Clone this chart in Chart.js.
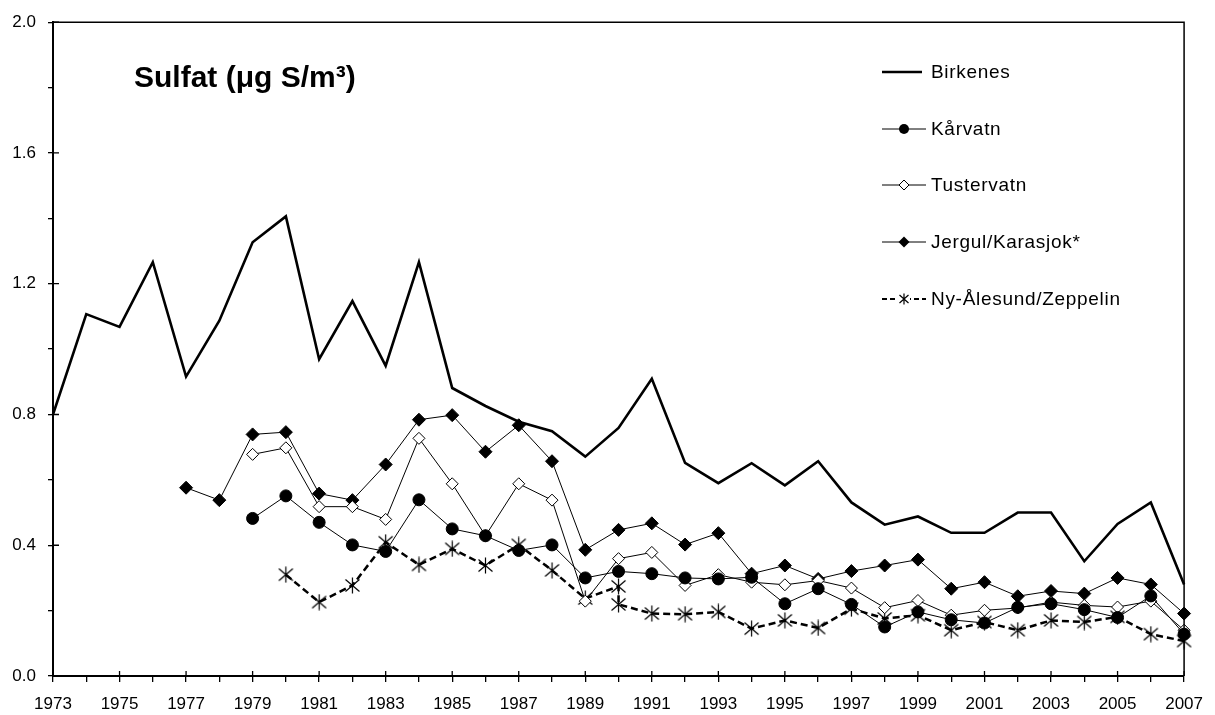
<!DOCTYPE html>
<html><head><meta charset="utf-8">
<script src="https://cdn.jsdelivr.net/npm/chart.js@4"></script>
<style>
html,body{margin:0;padding:0;background:#fff;}
#wrap{position:relative;width:1215px;height:715px;overflow:hidden;}
#c{position:absolute;left:0;top:0;}
.title{position:absolute;left:134px;top:62px;font:bold 30px 'Liberation Sans',Arial,sans-serif;line-height:30px;white-space:nowrap;color:#000;}
.leg{position:absolute;left:882px;height:20px;display:flex;align-items:center;font:19px 'Liberation Sans',Arial,sans-serif;letter-spacing:0.7px;color:#000;white-space:nowrap;line-height:20px;}
.leg svg{margin-right:5px;flex:none;}
</style></head>
<body><div id="wrap"><canvas id="c" width="1215" height="715"></canvas>
<div class="title">Sulfat (μg S/m³)</div>
<div id="legend"></div></div>
<script>
// ---- data ----
const yearsAll = [1973,1974,1975,1976,1977,1978,1979,1980,1981,1982,1983,1984,1985,1986,1987,1988,1989,1990,1991,1992,1993,1994,1995,1996,1997,1998,1999,2000,2001,2002,2003,2004,2005,2006,2007];
const seriesNames = ['Birkenes','Kårvatn','Tustervatn','Jergul/Karasjok*','Ny-Ålesund/Zeppelin'];

const birkenesYears = yearsAll;
const birkenes = [0.80,1.107,1.068,1.266,0.916,1.087,1.327,1.406,0.969,1.147,0.949,1.266,0.881,0.826,0.778,0.749,0.671,0.759,0.909,0.652,0.590,0.651,0.583,0.657,0.531,0.463,0.488,0.438,0.438,0.500,0.500,0.351,0.465,0.531,0.280];

const kaarvatnYears = yearsAll.slice(6);
const kaarvatn = [0.482,0.551,0.470,0.401,0.381,0.539,0.450,0.429,0.384,0.401,0.300,0.320,0.313,0.300,0.297,0.302,0.221,0.267,0.219,0.150,0.196,0.172,0.162,0.210,0.221,0.203,0.179,0.245,0.128];

const tustervatnYears = yearsAll.slice(6);
const tustervatn = [0.678,0.698,0.518,0.518,0.479,0.727,0.588,0.429,0.588,0.538,0.229,0.359,0.378,0.277,0.310,0.287,0.279,0.292,0.269,0.209,0.231,0.186,0.201,0.208,0.226,0.216,0.211,0.229,0.140];

const jergulYears = yearsAll.slice(4);
const jergul = [0.576,0.538,0.739,0.746,0.558,0.538,0.647,0.784,0.798,0.686,0.767,0.657,0.386,0.447,0.467,0.402,0.437,0.313,0.338,0.297,0.321,0.338,0.356,0.267,0.287,0.244,0.260,0.252,0.300,0.280,0.191];

const nyYears = [1980,1981,1982,1983,1984,1985,1986,1987,1988,1989,1990,1990,1991,1992,1993,1994,1995,1996,1997,1998,1999,2000,2001,2002,2003,2004,2005,2006,2007];
const nyAalesund = [0.310,0.226,0.277,0.409,0.340,0.389,0.338,0.401,0.323,0.237,0.274,0.219,0.191,0.189,0.196,0.145,0.170,0.147,0.206,0.176,0.186,0.140,0.165,0.140,0.170,0.165,0.181,0.128,0.107];

const xTickLabels = ['1973','1975','1977','1979','1981','1983','1985','1987','1989','1991','1993','1995','1997','1999','2001','2003','2005','2007'];
const yTickLabels = ['0.0','0.4','0.8','1.2','1.6','2.0'];

// ---- helpers ----
const pts = (xs, ys) => ys.map((v,i)=>({x:xs[i], y:v}));
const asterisk = (()=>{const c=document.createElement('canvas');c.width=17;c.height=17;const g=c.getContext('2d');g.strokeStyle='#000';g.lineWidth=1.2;g.beginPath();g.moveTo(8.5,0.5);g.lineTo(8.5,16.5);g.moveTo(1.5,2.5);g.lineTo(15.5,14.5);g.moveTo(1.5,14.5);g.lineTo(15.5,2.5);g.stroke();return c;})();

const FONT = "'Liberation Sans', Arial, sans-serif";

const framePlugin = {
  id:'frame',
  afterDraw(chart){
    const {ctx, chartArea:a, scales:{x,y}} = chart;
    ctx.save();
    ctx.strokeStyle='#000';
    ctx.lineWidth=1.5;
    ctx.beginPath();
    ctx.moveTo(a.left,a.top); ctx.lineTo(a.right,a.top); ctx.lineTo(a.right,a.bottom);
    ctx.stroke();
    ctx.lineWidth=1.3;
    ctx.beginPath();
    x.ticks.forEach(t=>{ if(xTickLabels.includes(String(t.value))){ const px=x.getPixelForValue(t.value); ctx.moveTo(px,a.bottom); ctx.lineTo(px,a.bottom-5);} });
    y.ticks.forEach(t=>{ if(yTickLabels.includes(t.value.toFixed(1))){ const py=y.getPixelForValue(t.value); ctx.moveTo(a.left,py); ctx.lineTo(a.left+6,py);} });
    ctx.stroke();
    ctx.restore();
  }
};

new Chart(document.getElementById('c'), {
  type:'line',
  data:{ datasets:[
    {label:seriesNames[0], data:pts(birkenesYears,birkenes), borderColor:'#000', borderWidth:2.6, pointRadius:0, tension:0},
    {label:seriesNames[1], data:pts(kaarvatnYears,kaarvatn), borderColor:'#000', borderWidth:1, pointStyle:'circle', pointRadius:6, pointBackgroundColor:'#000', pointBorderColor:'#000', pointBorderWidth:1},
    {label:seriesNames[2], data:pts(tustervatnYears,tustervatn), borderColor:'#000', borderWidth:1, pointStyle:'rectRot', pointRadius:6, pointBackgroundColor:'#fff', pointBorderColor:'#000', pointBorderWidth:1},
    {label:seriesNames[3], data:pts(jergulYears,jergul), borderColor:'#000', borderWidth:1, pointStyle:'rectRot', pointRadius:6.5, pointBackgroundColor:'#000', pointBorderColor:'#000', pointBorderWidth:1},
    {label:seriesNames[4], data:pts(nyYears,nyAalesund), borderColor:'#000', borderWidth:2.5, borderDash:[7,4], pointStyle:asterisk, pointRadius:8}
  ]},
  options:{
    responsive:false, animation:false,
    layout:{padding:{top:19,right:26,left:0,bottom:0}},
    datasets:{line:{clip:false}},
    plugins:{legend:{display:false}, tooltip:{enabled:false}},
    scales:{
      x:{type:'linear', min:1973, max:2007,
        afterFit(s){s.height=39;},
        ticks:{stepSize:1, autoSkip:false, maxRotation:0, minRotation:0, color:'#000', padding:12, font:{family:FONT,size:17},
          callback:(v)=> xTickLabels.includes(String(v)) ? String(v) : ''},
        grid:{drawOnChartArea:false, drawTicks:true, tickLength:6, color:'#000', lineWidth:1.3},
        border:{display:true, color:'#000', width:2}
      },
      y:{min:0, max:2,
        afterFit(s){s.width=53;},
        ticks:{stepSize:0.2, color:'#000', padding:12, font:{family:FONT,size:17},
          callback:(v)=>{const s=Number(v).toFixed(1); return yTickLabels.includes(s)?s:'';}},
        grid:{drawOnChartArea:false, drawTicks:true, tickLength:5, color:'#000', lineWidth:1.3},
        border:{display:true, color:'#000', width:2}
      }
    }
  },
  plugins:[framePlugin]
});

// ---- legend (HTML) ----
const legendSymbols = [
  '<line x1="0" y1="10" x2="40" y2="10" stroke="#000" stroke-width="2.5"/>',
  '<line x1="0" y1="10" x2="44" y2="10" stroke="#000" stroke-width="1"/><circle cx="22" cy="10" r="5" fill="#000"/>',
  '<line x1="0" y1="10" x2="44" y2="10" stroke="#000" stroke-width="1"/><path d="M22 5 L27 10 L22 15 L17 10 Z" fill="#fff" stroke="#000" stroke-width="1"/>',
  '<line x1="0" y1="10" x2="44" y2="10" stroke="#000" stroke-width="1"/><path d="M22 4.5 L27.5 10 L22 15.5 L16.5 10 Z" fill="#000"/>',
  '<line x1="0" y1="10" x2="44" y2="10" stroke="#000" stroke-width="2" stroke-dasharray="5,3"/><rect x="16" y="4" width="12" height="12" fill="#fff"/><path d="M22 4.5 V15.5 M17.5 6 L26.5 14 M17.5 14 L26.5 6" stroke="#000" stroke-width="1.2"/>'
];
const lg = document.getElementById('legend');
seriesNames.forEach((n,i)=>{
  const d=document.createElement('div');
  d.className='leg';
  d.style.top=(72 + i*56.65 - 10)+'px';
  d.innerHTML='<svg width="44" height="20" viewBox="0 0 44 20">'+legendSymbols[i]+'</svg><span>'+n+'</span>';
  lg.appendChild(d);
});
</script>
</body></html>
